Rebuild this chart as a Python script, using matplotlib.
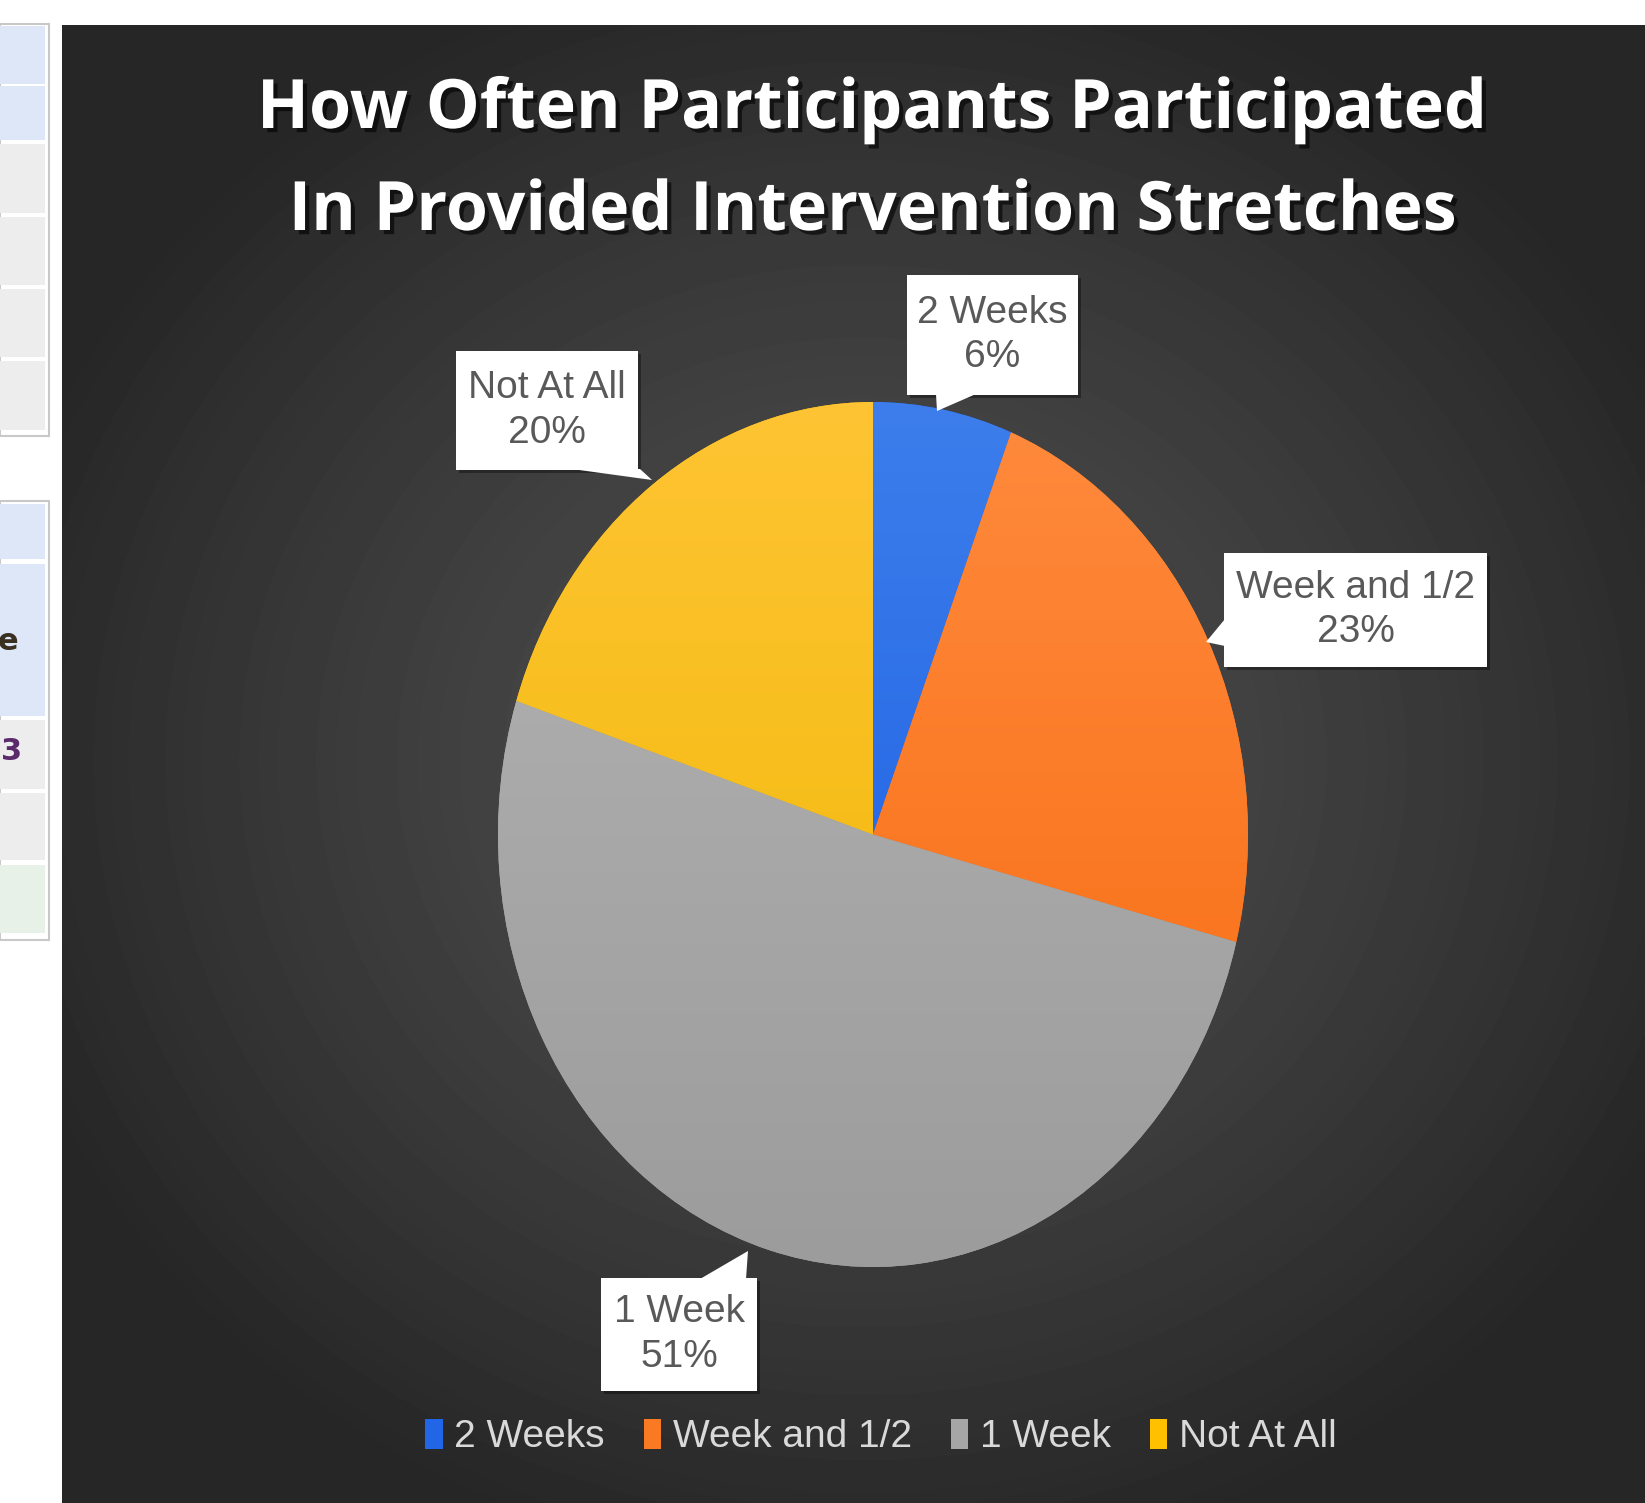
import numpy as np
import matplotlib.pyplot as plt
import matplotlib.patheffects as pe
from matplotlib import font_manager
from matplotlib.patches import Rectangle, Polygon
from matplotlib.colors import LinearSegmentedColormap

categories = ['2 Weeks', 'Week and 1/2', '1 Week', 'Not At All']
percents = [6, 23, 51, 20]
label_text = ['2 Weeks\n6%', 'Week and 1/2\n23%', '1 Week\n51%', 'Not At All\n20%']
colors_top = ['#3D7EEC', '#FF8A3D', '#B4B4B4', '#FFC433']
colors_bottom = ['#1558E0', '#F76A0E', '#9C9C9C', '#EDB700']
colors_flat = ['#2266E8', '#F97A22', '#A6A6A6', '#FFC000']

installed = {f.name for f in font_manager.fontManager.ttflist}
narrow = 'Liberation Sans Narrow' if 'Liberation Sans Narrow' in installed else 'Liberation Sans'
small_fs = 31 if narrow == 'Liberation Sans Narrow' else 28

W, H = 1645, 1503
fig = plt.figure(figsize=(W / 100, H / 100), dpi=100)
fig.patch.set_facecolor('white')


def fx(px):
    return px / W


def fy(py):
    return 1 - py / H


# cropped table strip on the left
rows_a = [(26, 84, '#DDE7F8'), (86, 140, '#DDE7F8'), (144, 213, '#EDEDED'),
          (217, 285, '#EDEDED'), (289, 357, '#EDEDED'), (361, 430, '#EDEDED')]
rows_b = [(504, 559, '#DDE7F8'), (564, 716, '#DDE7F8'), (720, 789, '#EDEDED'),
          (793, 860, '#EDEDED'), (865, 933, '#E7F1E7')]
for rows, top, bot in [(rows_a, 24, 436), (rows_b, 501, 940)]:
    fig.patches.append(Rectangle((0, fy(bot)), fx(49), fy(top) - fy(bot), transform=fig.transFigure,
                                 facecolor='white', edgecolor='#C8C8C8', linewidth=1.5))
    for y0, y1, c in rows:
        fig.patches.append(Rectangle((0, fy(y1)), fx(45), fy(y0) - fy(y1), transform=fig.transFigure,
                                     facecolor=c, edgecolor='none'))
fig.text(fx(-2), fy(642), 'e', fontsize=22, fontweight='bold', color='#3A3020', va='center')
fig.text(fx(1), fy(752), '3', fontsize=22, fontweight='bold', color='#5A2A6A', va='center')

# dark panel with radial gradient
bg = fig.add_axes([fx(62), 0, 1 - fx(62), fy(25)])
yy, xx = np.mgrid[25:1503:4, 62:1645:4]
d = np.sqrt(((xx - 860) / 900.0) ** 2 + ((yy - 760) / 820.0) ** 2)
shade = 0.31 - 0.16 * np.clip(d, 0, 1) ** 1.3
bg.imshow(shade, cmap='gray', vmin=0, vmax=1, extent=[62, 1645, 1503, 25], aspect='auto', interpolation='bilinear')
bg.axis('off')

# title
title_lines = ['How Often Participants Participated', 'In Provided Intervention Stretches']
for line, ypx in zip(title_lines, [110, 212]):
    fig.text(fx(871), fy(ypx), line, fontsize=49, fontweight='bold', family=['Open Sans', 'DejaVu Sans'],
             color='white', ha='center', va='center',
             path_effects=[pe.withSimplePatchShadow(offset=(3, -3), shadow_rgbFace='black', alpha=0.6)])

# pie (elliptical, as in the source image)
ax = fig.add_axes([fx(498), fy(1267), (1248 - 498) / W, (1267 - 402) / H])
wedges, _ = ax.pie(percents, colors=colors_flat, startangle=90, counterclock=False,
                   wedgeprops=dict(edgecolor='none'))
grad = np.linspace(0, 1, 256).reshape(-1, 1)
for w, ct, cb in zip(wedges, colors_top, colors_bottom):
    cmap = LinearSegmentedColormap.from_list('g', [ct, cb])
    im = ax.imshow(grad, cmap=cmap, extent=[-1, 1, -1, 1], origin='upper', aspect='auto', zorder=2)
    im.set_clip_path(w)
ax.set_xlim(-1, 1)
ax.set_ylim(-1, 1)
ax.set_aspect('auto')
ax.axis('off')

# callout labels: box (x0, x1, y0, y1) and pointer triangle, in pixels
boxes = [(907, 1078, 275, 395), (1224, 1487, 553, 667), (601, 757, 1278, 1391), (456, 638, 351, 470)]
pointers = [[(936, 394), (976, 394), (937, 411)],
            [(1225, 619), (1225, 646), (1206, 642)],
            [(700, 1279), (746, 1279), (748, 1251)],
            [(572, 469), (640, 469), (652, 480)]]
for (x0, x1, y0, y1), tri, txt in zip(boxes, pointers, label_text):
    fig.patches.append(Rectangle((fx(x0) + 0.002, fy(y1) - 0.002), fx(x1 - x0), fy(y0) - fy(y1),
                                 transform=fig.transFigure, facecolor='black', alpha=0.35, edgecolor='none'))
    fig.patches.append(Rectangle((fx(x0), fy(y1)), fx(x1 - x0), fy(y0) - fy(y1),
                                 transform=fig.transFigure, facecolor='white', edgecolor='none'))
    fig.patches.append(Polygon([(fx(a), fy(b)) for a, b in tri], closed=True, transform=fig.transFigure,
                               facecolor='white', edgecolor='none'))
    fig.text(fx((x0 + x1) / 2), fy((y0 + y1) / 2), txt, fontsize=small_fs, family=[narrow, 'DejaVu Sans'],
             color='#595959', ha='center', va='center', linespacing=1.3)

# legend
leg = fig.legend(wedges, categories, loc='center', bbox_to_anchor=(fx(881), fy(1437)), ncol=4,
                 frameon=False, handlelength=0.45, handleheight=0.8, handletextpad=0.3,
                 columnspacing=1.0, prop=dict(family=[narrow, 'DejaVu Sans'], size=small_fs))
for t in leg.get_texts():
    t.set_color('#D9D9D9')

fig.savefig('out.png', dpi=100, facecolor=fig.get_facecolor())
